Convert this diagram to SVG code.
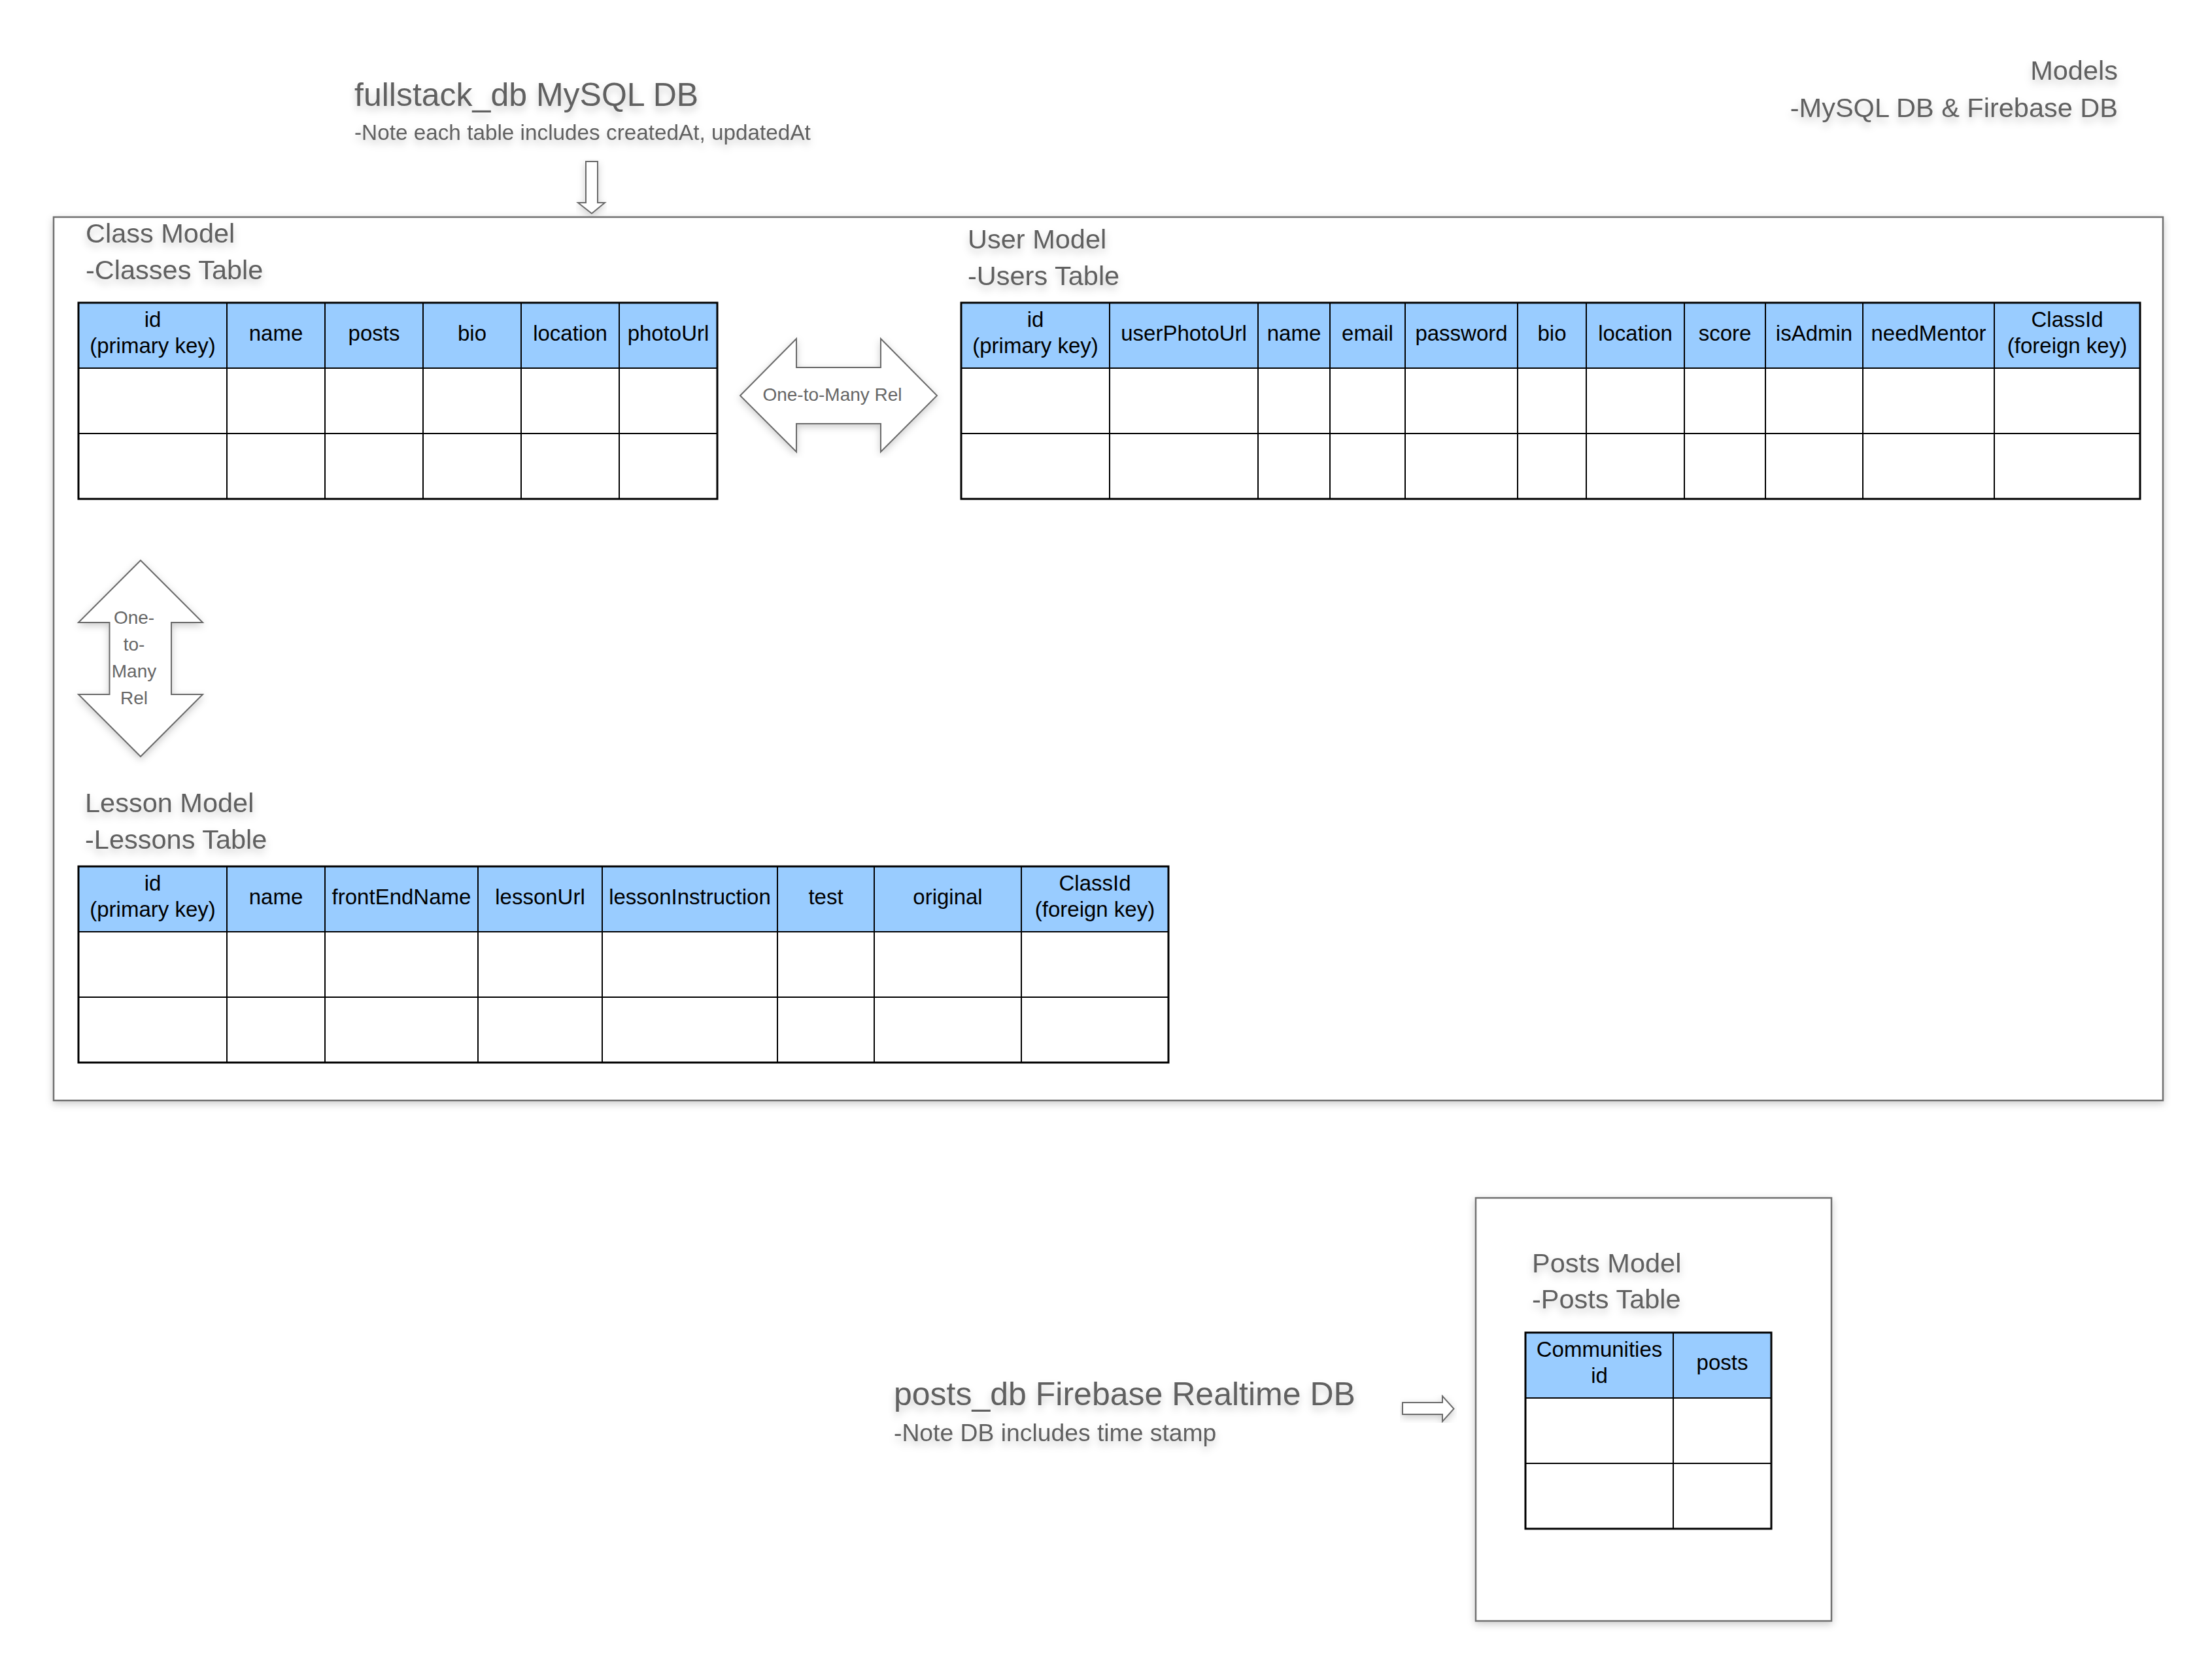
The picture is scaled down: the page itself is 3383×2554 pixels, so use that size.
<svg xmlns="http://www.w3.org/2000/svg" width="3383" height="2554" viewBox="0 0 3383 2554">
<defs>
<filter id="ts" x="-10%" y="-40%" width="120%" height="200%">
<feDropShadow dx="0" dy="7" stdDeviation="6" flood-color="#000" flood-opacity="0.2"/>
</filter>
<filter id="bs" x="-5%" y="-5%" width="110%" height="110%">
<feDropShadow dx="0" dy="4" stdDeviation="6" flood-color="#000" flood-opacity="0.2"/>
</filter>
</defs>
<style>
text{font-family:"Liberation Sans",Arial,sans-serif}
.h1{font-size:50px;fill:#606060}
.h2{font-size:41.5px;fill:#606060}
.sub{font-size:33.3px;fill:#606060}
.th{font-size:33px;fill:#000;text-anchor:middle}
.rel{font-size:28px;fill:#666;text-anchor:middle}
.hdr{fill:#99ccff}
.grid{stroke:#000;stroke-width:2;fill:none}
.box{fill:#fff;stroke:#6f6f6f;stroke-width:2.5}
.arrow{fill:#fff;stroke:#6a6a6a;stroke-width:2}
.sh{filter:url(#ts)}
</style>
<rect width="3383" height="2554" fill="#fff"/>

<g id="mysql-container">
<rect class="box" x="82" y="332" width="3226" height="1351" filter="url(#bs)"/>
</g>

<g id="title-mysql" class="sh">
<text class="h1" x="542" y="162">fullstack_db MySQL DB</text>
<text class="sub" x="542" y="214">-Note each table includes createdAt, updatedAt</text>
</g>

<g id="title-models" class="sh">
<text class="h2" x="3239" y="122" text-anchor="end">Models</text>
<text class="h2" x="3239" y="179" text-anchor="end">-MySQL DB &amp; Firebase DB</text>
</g>

<g id="class-model">
<g class="sh">
<text class="h2" x="131" y="371">Class Model</text>
<text class="h2" x="131" y="427">-Classes Table</text>
</g>
<rect class="hdr" x="120" y="463" width="977" height="100"/>
<rect x="120" y="563" width="977" height="200" fill="#fff"/>
<g class="grid">
<rect x="120" y="463" width="977" height="300" stroke-width="3"/>
<path d="M120 563H1097M120 663H1097M347 463V763M497 463V763M647 463V763M797 463V763M947 463V763"/>
</g>
<text class="th" x="233.5" y="500">id</text>
<text class="th" x="233.5" y="540">(primary key)</text>
<text class="th" x="422" y="521">name</text>
<text class="th" x="572" y="521">posts</text>
<text class="th" x="722" y="521">bio</text>
<text class="th" x="872" y="521">location</text>
<text class="th" x="1022" y="521">photoUrl</text>
</g>

<g id="user-model">
<g class="sh">
<text class="h2" x="1480" y="380">User Model</text>
<text class="h2" x="1480" y="436">-Users Table</text>
</g>
<rect class="hdr" x="1470" y="463" width="1803" height="100"/>
<rect x="1470" y="563" width="1803" height="200" fill="#fff"/>
<g class="grid">
<rect x="1470" y="463" width="1803" height="300" stroke-width="3"/>
<path d="M1470 563H3273M1470 663H3273M1697 463V763M1924 463V763M2034 463V763M2149 463V763M2321 463V763M2426 463V763M2576 463V763M2700 463V763M2849 463V763M3050 463V763"/>
</g>
<text class="th" x="1583.5" y="500">id</text>
<text class="th" x="1583.5" y="540">(primary key)</text>
<text class="th" x="1810.5" y="521">userPhotoUrl</text>
<text class="th" x="1979" y="521">name</text>
<text class="th" x="2091.5" y="521">email</text>
<text class="th" x="2235" y="521">password</text>
<text class="th" x="2373.5" y="521">bio</text>
<text class="th" x="2501" y="521">location</text>
<text class="th" x="2638" y="521">score</text>
<text class="th" x="2774.5" y="521">isAdmin</text>
<text class="th" x="2949.5" y="521">needMentor</text>
<text class="th" x="3161.5" y="500">ClassId</text>
<text class="th" x="3161.5" y="540">(foreign key)</text>
</g>

<g id="lesson-model">
<g class="sh">
<text class="h2" x="130" y="1242">Lesson Model</text>
<text class="h2" x="130" y="1298">-Lessons Table</text>
</g>
<rect class="hdr" x="120" y="1325" width="1667" height="100"/>
<rect x="120" y="1425" width="1667" height="200" fill="#fff"/>
<g class="grid">
<rect x="120" y="1325" width="1667" height="300" stroke-width="3"/>
<path d="M120 1425H1787M120 1525H1787M347 1325V1625M497 1325V1625M731 1325V1625M921 1325V1625M1189 1325V1625M1337 1325V1625M1562 1325V1625"/>
</g>
<text class="th" x="233.5" y="1362">id</text>
<text class="th" x="233.5" y="1402">(primary key)</text>
<text class="th" x="422" y="1383">name</text>
<text class="th" x="614" y="1383">frontEndName</text>
<text class="th" x="826" y="1383">lessonUrl</text>
<text class="th" x="1055" y="1383">lessonInstruction</text>
<text class="th" x="1263" y="1383">test</text>
<text class="th" x="1449.5" y="1383">original</text>
<text class="th" x="1674.5" y="1362">ClassId</text>
<text class="th" x="1674.5" y="1402">(foreign key)</text>
</g>

<g id="title-firebase" class="sh">
<text class="h1" x="1367" y="2149">posts_db Firebase Realtime DB</text>
<text style="font-size:37.3px;fill:#606060" x="1367" y="2204">-Note DB includes time stamp</text>
</g>

<g id="posts-model">
<rect class="box" x="2257" y="1832" width="544" height="647" filter="url(#bs)"/>
<g class="sh">
<text class="h2" x="2343" y="1946">Posts Model</text>
<text class="h2" x="2343" y="2001">-Posts Table</text>
</g>
<rect class="hdr" x="2333" y="2038" width="376" height="100"/>
<rect x="2333" y="2138" width="376" height="200" fill="#fff"/>
<g class="grid">
<rect x="2333" y="2038" width="376" height="300" stroke-width="3"/>
<path d="M2333 2138H2709M2333 2238H2709M2559 2038V2338"/>
</g>
<text class="th" x="2446" y="2075">Communities</text>
<text class="th" x="2446" y="2115">id</text>
<text class="th" x="2634" y="2095">posts</text>
</g>

<g id="connectors">
<g id="arrow-title-down">
<polygon class="arrow" filter="url(#bs)" points="896,247 914,247 914,310 925,310 905,326.5 884,310 896,310"/>
</g>
<g id="rel-class-user">
<polygon class="arrow" filter="url(#bs)" points="1132,605 1218,518 1218,562 1347,562 1347,518 1433,605 1347,691 1347,648 1218,648 1218,691"/>
<text class="rel" x="1273" y="613">One-to-Many Rel</text>
</g>
<g id="rel-class-lesson">
<polygon class="arrow" filter="url(#bs)" points="215,857 310,952 262,952 262,1062 310,1062 215,1157 120,1062 167.5,1062 167.5,952 120,952"/>
<text class="rel" x="205" y="954">One-</text>
<text class="rel" x="205" y="995">to-</text>
<text class="rel" x="205" y="1036">Many</text>
<text class="rel" x="205" y="1077">Rel</text>
</g>
<g id="arrow-firebase-right">
<polygon class="arrow" filter="url(#bs)" points="2145,2145 2206,2145 2206,2135 2223.5,2154.5 2206,2174 2206,2163 2145,2163"/>
</g>
</g>
</svg>
